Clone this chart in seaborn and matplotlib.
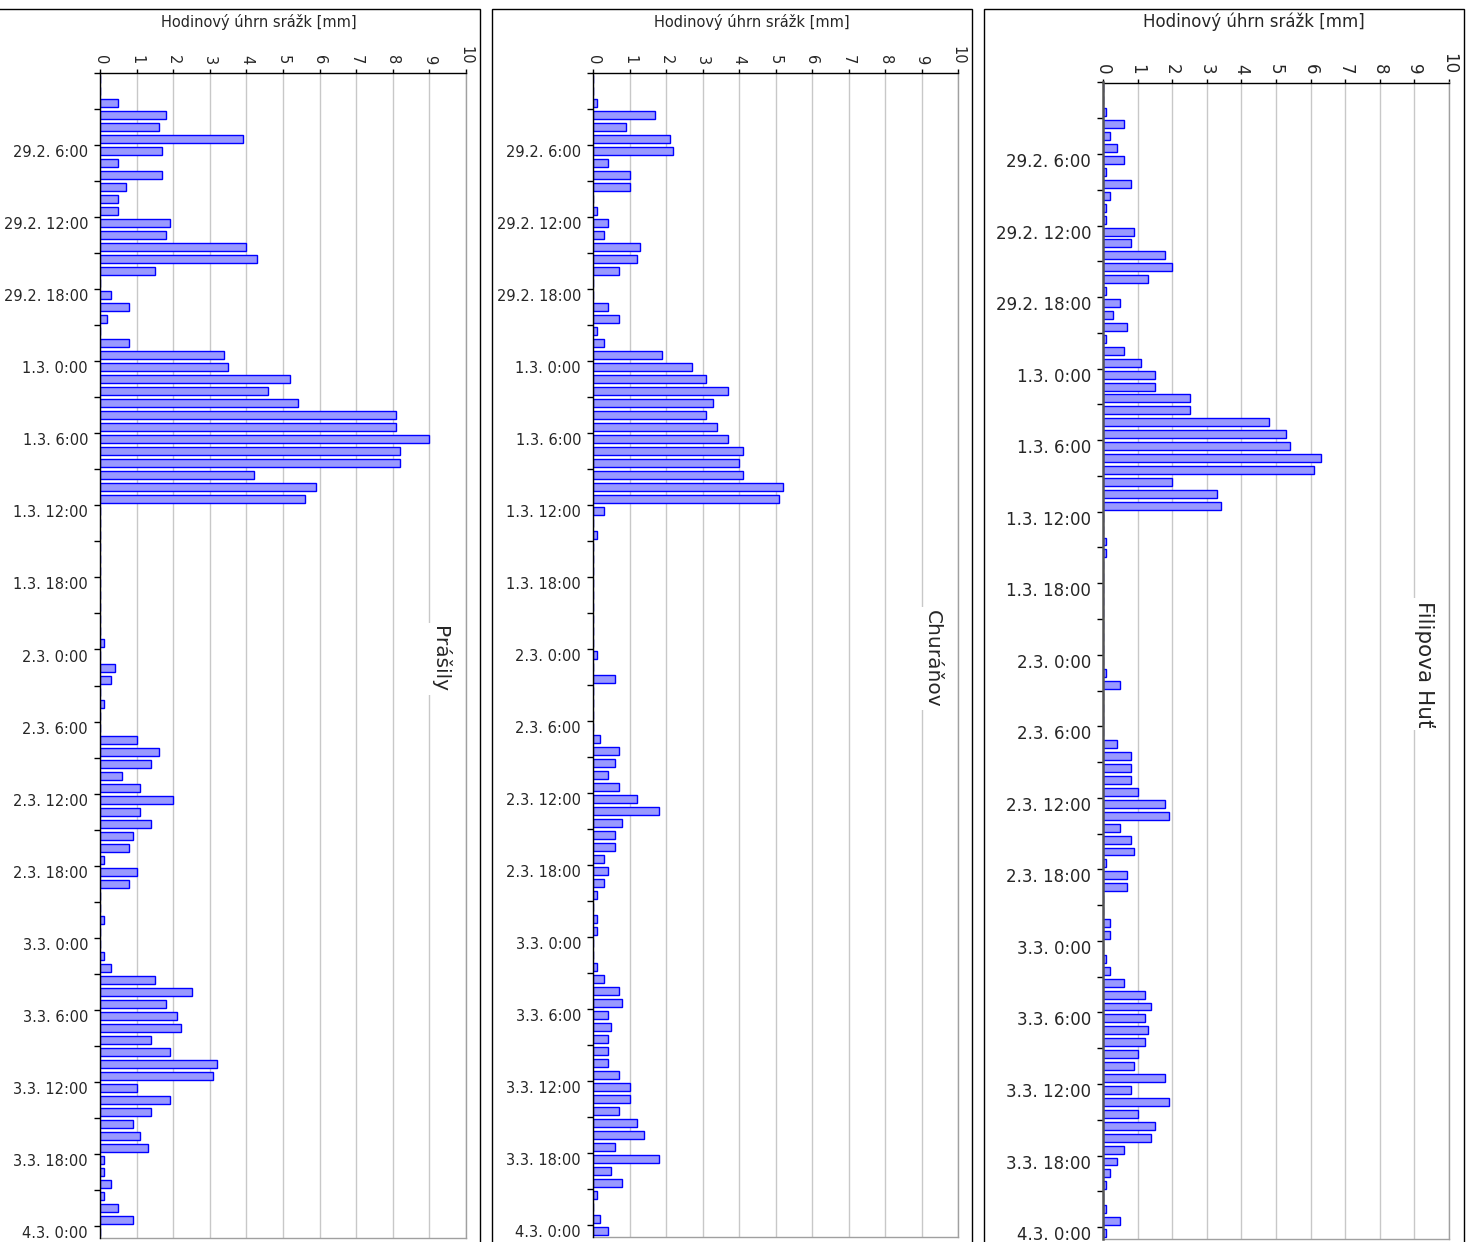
import numpy as np
import pandas as pd
import matplotlib
matplotlib.use("Agg")
import matplotlib.pyplot as plt
from matplotlib.patches import Rectangle
import seaborn as sns

# Hourly categories, 29.2. 0:00 .. 4.3. 0:00
hours = pd.date_range("2020-02-29 00:00", "2020-03-04 00:00", freq="h")
hour_names = [f"{t.day}.{t.month}. {t.hour}:00" for t in hours]

tick_hours = list(range(6, 97, 6))
tick_labels = [
    "29.2. 6:00", "29.2. 12:00", "29.2. 18:00",
    "1.3. 0:00", "1.3. 6:00", "1.3. 12:00", "1.3. 18:00",
    "2.3. 0:00", "2.3. 6:00", "2.3. 12:00", "2.3. 18:00",
    "3.3. 0:00", "3.3. 6:00", "3.3. 12:00", "3.3. 18:00",
    "4.3. 0:00",
]

value_ticks = list(range(0, 11))
axis_title = "Hodinový úhrn srážk [mm]"
stations = ["Prášily", "Churáňov", "Filipova Huť"]

# Hourly precipitation [mm]
prasily = [
    0, 0, 0.5, 1.8, 1.6, 3.9, 1.7, 0.5, 1.7, 0.7, 0.5, 0.5, 1.9, 1.8, 4.0, 4.3,
    1.5, 0, 0.3, 0.8, 0.2, 0, 0.8, 3.4, 3.5, 5.2, 4.6, 5.4, 8.1, 8.1, 9.0, 8.2,
    8.2, 4.2, 5.9, 5.6, 0, 0, 0, 0, 0, 0, 0, 0, 0, 0, 0, 0.1, 0, 0.4, 0.3, 0,
    0.1, 0, 0, 1.0, 1.6, 1.4, 0.6, 1.1, 2.0, 1.1, 1.4, 0.9, 0.8, 0.1, 1.0, 0.8,
    0, 0, 0.1, 0, 0, 0.1, 0.3, 1.5, 2.5, 1.8, 2.1, 2.2, 1.4, 1.9, 3.2, 3.1,
    1.0, 1.9, 1.4, 0.9, 1.1, 1.3, 0.1, 0.1, 0.3, 0.1, 0.5, 0.9, 0,
]
churanov = [
    0, 0, 0.1, 1.7, 0.9, 2.1, 2.2, 0.4, 1.0, 1.0, 0, 0.1, 0.4, 0.3, 1.3, 1.2,
    0.7, 0, 0, 0.4, 0.7, 0.1, 0.3, 1.9, 2.7, 3.1, 3.7, 3.3, 3.1, 3.4, 3.7, 4.1,
    4.0, 4.1, 5.2, 5.1, 0.3, 0, 0.1, 0, 0, 0, 0, 0, 0, 0, 0, 0, 0.1, 0, 0.6, 0,
    0, 0, 0, 0.2, 0.7, 0.6, 0.4, 0.7, 1.2, 1.8, 0.8, 0.6, 0.6, 0.3, 0.4, 0.3,
    0.1, 0, 0.1, 0.1, 0, 0, 0.1, 0.3, 0.7, 0.8, 0.4, 0.5, 0.4, 0.4, 0.4, 0.7,
    1.0, 1.0, 0.7, 1.2, 1.4, 0.6, 1.8, 0.5, 0.8, 0.1, 0, 0.2, 0.4,
]
filipova_hut = [
    0, 0, 0.1, 0.6, 0.2, 0.4, 0.6, 0.1, 0.8, 0.2, 0.1, 0.1, 0.9, 0.8, 1.8, 2.0,
    1.3, 0.1, 0.5, 0.3, 0.7, 0.1, 0.6, 1.1, 1.5, 1.5, 2.5, 2.5, 4.8, 5.3, 5.4, 6.3,
    6.1, 2.0, 3.3, 3.4, 0, 0, 0.1, 0.1, 0, 0, 0, 0, 0, 0, 0, 0, 0, 0.1, 0.5, 0,
    0, 0, 0, 0.4, 0.8, 0.8, 0.8, 1.0, 1.8, 1.9, 0.5, 0.8, 0.9, 0.1, 0.7, 0.7,
    0, 0, 0.2, 0.2, 0, 0.1, 0.2, 0.6, 1.2, 1.4, 1.2, 1.3, 1.2, 1.0, 0.9, 1.8,
    0.8, 1.9, 1.0, 1.5, 1.4, 0.6, 0.4, 0.2, 0.1, 0, 0.1, 0.5, 0.1,
]
series = [prasily, churanov, filipova_hut]

sns.set_style("white")
plt.rcParams["font.family"] = ["DejaVu Sans"]

W, H = 1470, 1242
fig = plt.figure(figsize=(W / 100, H / 100), dpi=100)
fig.patch.set_facecolor("white")

# panel layout in pixels: axes box, outer frame, font sizes, left spine style
panels = [
    dict(l=100, r=466, t=73, b=1238, fl=-2, fr=480, fs=10.5, title_fs=10.5,
         name_fs=14.5, spine_c="black", spine_w=1.0),
    dict(l=593, r=958, t=73, b=1237, fl=492, fr=972, fs=10.5, title_fs=10.5,
         name_fs=14.5, spine_c="black", spine_w=1.0),
    dict(l=1103, r=1449, t=82.5, b=1239, fl=984, fr=1464, fs=12, title_fs=12,
         name_fs=15.5, spine_c="#555555", spine_w=1.8),
]

for p, name, values in zip(panels, stations, series):
    # outer chart frame
    fig.add_artist(Rectangle((p["fl"] / W, -0.05), (p["fr"] - p["fl"]) / W, 1.05 - 8.5 / H,
                             transform=fig.transFigure, fill=False,
                             edgecolor="black", linewidth=1.0))
    ax = fig.add_axes([p["l"] / W, 1 - p["b"] / H, (p["r"] - p["l"]) / W, (p["b"] - p["t"]) / H])
    df = pd.DataFrame({"hodina": hour_names, "srazky": values})
    # bars sit below the spines so empty hours leave the axis line clean
    sns.barplot(data=df, x="srazky", y="hodina", orient="h", color="#9999ff",
                saturation=1, edgecolor="#0000ff", linewidth=1.0, width=0.667,
                errorbar=None, ax=ax, zorder=2)
    ax.set_xlim(0, 10)
    ax.set_ylim(96.5, -0.5)

    # value axis on top, labels turned clockwise
    ax.xaxis.tick_top()
    ax.set_xticks(value_ticks)
    ax.set_xticklabels([str(v) for v in value_ticks], rotation=-90, fontsize=p["fs"])
    ax.tick_params(axis="x", which="major", direction="out", length=3, width=1,
                   color="black", pad=3)
    ax.xaxis.set_label_position("top")
    ax.set_xlabel(axis_title, fontsize=p["title_fs"])
    ax.xaxis.set_label_coords(0.435, 1 + (p["t"] - 22) / (p["b"] - p["t"]))
    ax.xaxis.label.set_verticalalignment("center")

    # time axis: labels on the hour, ticks on hour boundaries every 3 h
    ax.set_yticks(tick_hours)
    ax.set_yticklabels(tick_labels, fontsize=p["fs"])
    ax.tick_params(axis="y", which="major", length=0, pad=8.6)
    ax.set_yticks(np.arange(-0.5, 97, 3), minor=True)
    ax.tick_params(axis="y", which="minor", direction="out", length=4, width=1,
                   color="black", left=True)
    ax.set_ylabel("")

    ax.grid(axis="x", color="#c8c8c8", linewidth=1.0, zorder=0)
    ax.grid(axis="y", visible=False)
    ax.set_axisbelow(True)

    ax.spines["top"].set_color("black")
    ax.spines["top"].set_linewidth(1.0)
    ax.spines["left"].set_color(p["spine_c"])
    ax.spines["left"].set_linewidth(p["spine_w"])
    ax.spines["left"].set_zorder(3)
    for side in ("right", "bottom"):
        ax.spines[side].set_color("#a0a0a0")
        ax.spines[side].set_linewidth(1.0)

    ax.text(9.3, 48.3, name, rotation=-90, ha="center", va="center",
            fontsize=p["name_fs"], zorder=4,
            bbox=dict(facecolor="white", edgecolor="none", pad=2))

fig.savefig("out.png", dpi=100, facecolor="white")
